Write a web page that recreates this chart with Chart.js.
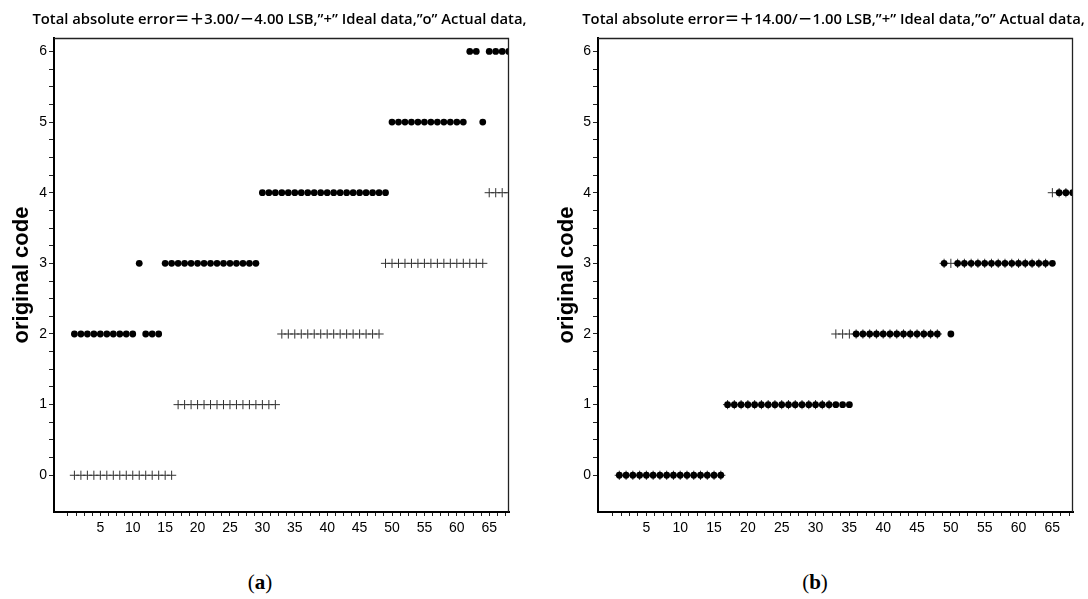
<!DOCTYPE html>
<html><head><meta charset="utf-8">
<script src="https://cdn.jsdelivr.net/npm/chart.js@4.4.1/dist/chart.umd.min.js"></script>
<style>
html,body{margin:0;padding:0;background:#fff;width:1088px;height:599px;overflow:hidden;}
#wa{position:absolute;left:0;top:0;width:545px;height:560px;}
#wb{position:absolute;left:545px;top:0;width:543px;height:560px;}
.cap{position:absolute;top:570px;width:100px;text-align:center;font-family:"Liberation Serif","DejaVu Serif",serif;font-size:21px;color:#000;line-height:24px;}
.cap b{font-weight:bold;}
</style></head><body>
<div id="wa"><canvas id="ca"></canvas></div>
<div id="wb"><canvas id="cb"></canvas></div>
<div class="cap" style="left:210px">(<b>a</b>)</div>
<div class="cap" style="left:765px">(<b>b</b>)</div>
<script>
// ---- data ----
const sampleIndex = [1,2,3,4,5,6,7,8,9,10,11,12,13,14,15,16,17,18,19,20,21,22,23,24,25,26,27,28,29,30,31,32,33,34,35,36,37,38,39,40,41,42,43,44,45,46,47,48,49,50,51,52,53,54,55,56,57,58,59,60,61,62,63,64,65,66,67,68];
const idealCode = [0,0,0,0,0,0,0,0,0,0,0,0,0,0,0,0,
                   1,1,1,1,1,1,1,1,1,1,1,1,1,1,1,1,
                   2,2,2,2,2,2,2,2,2,2,2,2,2,2,2,2,
                   3,3,3,3,3,3,3,3,3,3,3,3,3,3,3,3,
                   4,4,4,4];
const actualCodeA = [2,2,2,2,2,2,2,2,2,2,3,2,2,2,
                     3,3,3,3,3,3,3,3,3,3,3,3,3,3,3,
                     4,4,4,4,4,4,4,4,4,4,4,4,4,4,4,4,4,4,4,4,
                     5,5,5,5,5,5,5,5,5,5,5,5,
                     6,6,5,6,6,6,6];
const actualCodeB = [0,0,0,0,0,0,0,0,0,0,0,0,0,0,0,0,
                     1,1,1,1,1,1,1,1,1,1,1,1,1,1,1,1,1,1,1,
                     2,2,2,2,2,2,2,2,2,2,2,2,2,
                     3,2,
                     3,3,3,3,3,3,3,3,3,3,3,3,3,3,3,
                     4,4,4];
const titleA = 'Total absolute error\uFF1D\uFF0B3.00/\uFF0D4.00 LSB,\u201D+\u201D Ideal data,\u201Do\u201D Actual data,';
const titleB = 'Total absolute error\uFF1D\uFF0B14.00/\uFF0D1.00 LSB,\u201D+\u201D Ideal data,\u201Do\u201D Actual data,';
const yTitle = 'original code';
const xTickLabels = ['5','10','15','20','25','30','35','40','45','50','55','60','65'];
const yTickLabels = ['0','1','2','3','4','5','6'];

Chart.defaults.font.family = "'Liberation Sans', Arial, sans-serif";
Chart.defaults.color = '#000';

const framePlugin = {
  id: 'frame',
  afterDatasetsDraw(chart) {
    const {ctx, chartArea: a} = chart;
    ctx.save();
    ctx.strokeStyle = '#222';
    ctx.lineWidth = 1.3;
    ctx.beginPath();
    ctx.moveTo(a.left, a.top + 0.5);
    ctx.lineTo(a.right - 0.5, a.top + 0.5);
    ctx.lineTo(a.right - 0.5, a.bottom);
    ctx.stroke();
    ctx.restore();
  }
};

// Heading drawn centred over the plot area, without width compression
const headingPlugin = {
  id: 'heading',
  afterDraw(chart, args, opts) {
    const {ctx, chartArea: a} = chart;
    ctx.save();
    ctx.font = "600 14.8px 'Open Sans', 'Noto Sans', 'Noto Sans CJK SC', sans-serif";
    ctx.fillStyle = '#000';
    ctx.textAlign = 'center';
    ctx.textBaseline = 'middle';
    ctx.fillText(opts.text, (a.left + a.right) / 2 - 2, a.top - 18);
    ctx.restore();
  }
};

function makeChart(id, title, actual, yWidth, padRight) {
  const actualPts = sampleIndex.map((x, i) => ({x: x, y: actual[i]}));
  const idealPts = sampleIndex.map((x, i) => ({x: x, y: idealCode[i]}));
  return new Chart(document.getElementById(id), {
    type: 'scatter',
    data: {
      datasets: [
        {label: 'Actual data', data: actualPts, pointStyle: 'circle', pointRadius: 3.4,
         backgroundColor: '#000', borderColor: '#000', borderWidth: 0, clip: 0},
        {label: 'Ideal data', data: idealPts, pointStyle: 'cross', pointRadius: 4.6,
         borderColor: '#333', backgroundColor: '#333', borderWidth: 1, clip: 0}
      ]
    },
    options: {
      responsive: true, maintainAspectRatio: false, animation: false, devicePixelRatio: 1,
      layout: {padding: {left: 0, right: padRight, top: 38, bottom: 0}},
      plugins: {
        legend: {display: false}, tooltip: {enabled: false}, title: {display: false},
        heading: {text: title}
      },
      scales: {
        x: {
          type: 'linear', position: 'bottom', min: -2.15, max: 68.05,
          afterBuildTicks(s) { const t = []; for (let v = 0; v <= 67.5; v += 1.25) t.push({value: v}); s.ticks = t; },
          afterFit(s) { s.height = 48; },
          ticks: {autoSkip: false, maxRotation: 0, padding: 4, color: '#000', font: {size: 14},
            callback(v) { const l = String(v); return xTickLabels.includes(l) ? l : ''; }},
          grid: {drawOnChartArea: false, drawTicks: true, tickLength: 4, color: '#222'},
          border: {display: true, color: '#000', width: 2}
        },
        y: {
          type: 'linear', position: 'left', min: -0.52, max: 6.19,
          afterBuildTicks(s) { const t = []; for (let v = 0; v <= 6; v += 0.25) t.push({value: v}); s.ticks = t; },
          afterFit(s) { s.width = yWidth; },
          ticks: {autoSkip: false, padding: 2, color: '#000', font: {size: 14},
            callback(v) { return Number.isInteger(v) ? yTickLabels[v] : ''; }},
          grid: {drawOnChartArea: false, drawTicks: true, tickLength: 5, color: '#222'},
          border: {display: true, color: '#000', width: 2},
          title: {display: true, text: yTitle, color: '#000',
            font: {size: 22, weight: 'bold', lineHeight: 1}, padding: {top: 11, bottom: 0}}
        }
      }
    },
    plugins: [framePlugin, headingPlugin]
  });
}
makeChart('ca', titleA, actualCodeA, 54, 36);
makeChart('cb', titleB, actualCodeB, 53, 15);
</script>
</body></html>
